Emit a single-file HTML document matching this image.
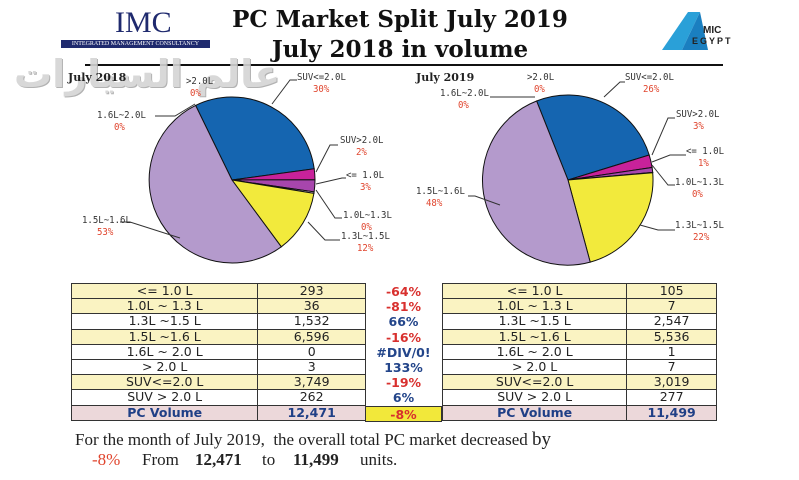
<!DOCTYPE html>
<html><head><meta charset="utf-8"><style>
body{margin:0;background:#fff;width:799px;height:480px;position:relative;overflow:hidden;font-family:"Liberation Serif",serif}
.a{position:absolute;white-space:nowrap}
.t{font-family:"DejaVu Serif","Liberation Serif",serif;font-weight:bold;font-size:23px;color:#111;text-align:center;width:800px;left:0}
.lb{font-family:"DejaVu Sans Mono","Liberation Mono",monospace;font-size:9.5px;color:#333;position:absolute;white-space:nowrap;transform:scaleX(.95);transform-origin:left}
.pc{color:#e0452e}
table{position:absolute;border-collapse:collapse;font-family:"DejaVu Sans","Liberation Sans",sans-serif;font-size:12.5px;color:#222}
td{border:1px solid #333;height:14.2px;padding:0;text-align:center;line-height:14px}
.y td{background:#faf3c2}.p td{background:#ecd8da;color:#1f3f86;font-weight:bold}
.m{position:absolute;left:365px;width:77px;text-align:center;font-family:"DejaVu Sans","Liberation Sans",sans-serif;font-weight:bold;font-size:12.5px;line-height:15.2px}
.r{color:#d8302e}.b{color:#23458a}
.bt{font-size:17px;color:#222}
</style></head><body>
<div class="a" style="left:115px;top:6px;font-size:30px;color:#1f2a6e;font-family:'Liberation Serif',serif">IMC</div>
<div class="a" style="left:61px;top:40px;width:149px;height:8px;background:#1f2a6e;color:#fff;font-size:6px;text-align:center;line-height:8px">INTEGRATED MANAGEMENT CONSULTANCY</div>
<div class="a t" style="top:6px">PC Market Split July 2019</div>
<div class="a t" style="top:36px">July 2018 in volume</div>
<div class="a" style="left:85px;top:64px;width:638px;height:2px;background:#111"></div>
<div class="a" style="left:660px;top:10px;width:70px;height:38px">
<svg width="90" height="45"><polygon points="2,40 28,2 40,2 22,40" fill="#2aa0d8"/><polygon points="22,40 40,2 48,40" fill="#1a7fc0"/></svg></div>
<div class="a" style="left:703px;top:25px;font:bold 10px 'Liberation Sans',sans-serif;color:#222">MIC</div>
<div class="a" style="left:692px;top:36px;font:bold 9px 'Liberation Sans',sans-serif;color:#222;letter-spacing:2px">EGYPT</div>
<svg id="sv" class="a" style="left:0;top:0" width="799" height="480"></svg>
<div class="a" style="left:14px;top:52px;font-size:38px;color:#d4d4d4;font-family:'DejaVu Sans',sans-serif;font-weight:bold;text-shadow:1px 1px 0 #aaa;opacity:.9">عالم السيارات</div>
<div class="a" style="left:68px;top:71px;font:bold 11px 'DejaVu Serif',serif;color:#222">July 2018</div>
<div class="a" style="left:416px;top:71px;font:bold 11px 'DejaVu Serif',serif;color:#222">July 2019</div>

<div class="lb" style="left:186px;top:76px">&gt;2.0L</div><div class="lb pc" style="left:190px;top:88px">0%</div>
<div class="lb" style="left:297px;top:72px">SUV&lt;=2.0L</div><div class="lb pc" style="left:313px;top:84px">30%</div>
<div class="lb" style="left:97px;top:110px">1.6L~2.0L</div><div class="lb pc" style="left:114px;top:122px">0%</div>
<div class="lb" style="left:340px;top:135px">SUV&gt;2.0L</div><div class="lb pc" style="left:356px;top:147px">2%</div>
<div class="lb" style="left:346px;top:170px">&lt;= 1.0L</div><div class="lb pc" style="left:360px;top:182px">3%</div>
<div class="lb" style="left:343px;top:210px">1.0L~1.3L</div><div class="lb pc" style="left:361px;top:222px">0%</div>
<div class="lb" style="left:341px;top:231px">1.3L~1.5L</div><div class="lb pc" style="left:357px;top:243px">12%</div>
<div class="lb" style="left:82px;top:215px">1.5L~1.6L</div><div class="lb pc" style="left:97px;top:227px">53%</div>

<div class="lb" style="left:527px;top:72px">&gt;2.0L</div><div class="lb pc" style="left:534px;top:84px">0%</div>
<div class="lb" style="left:625px;top:72px">SUV&lt;=2.0L</div><div class="lb pc" style="left:643px;top:84px">26%</div>
<div class="lb" style="left:440px;top:88px">1.6L~2.0L</div><div class="lb pc" style="left:458px;top:100px">0%</div>
<div class="lb" style="left:676px;top:109px">SUV&gt;2.0L</div><div class="lb pc" style="left:693px;top:121px">3%</div>
<div class="lb" style="left:686px;top:146px">&lt;= 1.0L</div><div class="lb pc" style="left:698px;top:158px">1%</div>
<div class="lb" style="left:675px;top:177px">1.0L~1.3L</div><div class="lb pc" style="left:692px;top:189px">0%</div>
<div class="lb" style="left:675px;top:220px">1.3L~1.5L</div><div class="lb pc" style="left:693px;top:232px">22%</div>
<div class="lb" style="left:416px;top:186px">1.5L~1.6L</div><div class="lb pc" style="left:426px;top:198px">48%</div>

<table style="left:71px;top:283px;width:295px">
<colgroup><col style="width:187px"><col style="width:108px"></colgroup>
<tr class="y"><td>&lt;= 1.0 L</td><td>293</td></tr>
<tr class="y"><td>1.0L ~ 1.3 L</td><td>36</td></tr>
<tr><td>1.3L ~1.5 L</td><td>1,532</td></tr>
<tr class="y"><td>1.5L ~1.6 L</td><td>6,596</td></tr>
<tr><td>1.6L ~ 2.0 L</td><td>0</td></tr>
<tr><td>&gt; 2.0 L</td><td>3</td></tr>
<tr class="y"><td>SUV&lt;=2.0 L</td><td>3,749</td></tr>
<tr><td>SUV &gt; 2.0 L</td><td>262</td></tr>
<tr class="p"><td>PC Volume</td><td>12,471</td></tr>
</table>
<table style="left:442px;top:283px;width:275px">
<colgroup><col style="width:185px"><col style="width:90px"></colgroup>
<tr class="y"><td>&lt;= 1.0 L</td><td>105</td></tr>
<tr class="y"><td>1.0L ~ 1.3 L</td><td>7</td></tr>
<tr><td>1.3L ~1.5 L</td><td>2,547</td></tr>
<tr class="y"><td>1.5L ~1.6 L</td><td>5,536</td></tr>
<tr><td>1.6L ~ 2.0 L</td><td>1</td></tr>
<tr><td>&gt; 2.0 L</td><td>7</td></tr>
<tr class="y"><td>SUV&lt;=2.0 L</td><td>3,019</td></tr>
<tr><td>SUV &gt; 2.0 L</td><td>277</td></tr>
<tr class="p"><td>PC Volume</td><td>11,499</td></tr>
</table>
<div class="m" style="top:284px">
<div class="r">-64%</div><div class="r">-81%</div><div class="b">66%</div><div class="r">-16%</div><div class="b">#DIV/0!</div><div class="b">133%</div><div class="r">-19%</div><div class="b">6%</div>
<div class="r" style="background:#f2e83a;border:1px solid #333;height:14px">-8%</div></div>

<div class="a bt" style="left:75px;top:429px">For the month of July 2019,&nbsp; the overall total PC market decreased <span style="font-size:19px">by</span></div>
<div class="a bt" style="left:92px;top:450px;color:#e0452e">-8%</div>
<div class="a bt" style="left:142px;top:450px">From</div>
<div class="a bt" style="left:195px;top:450px;font-weight:bold">12,471</div>
<div class="a bt" style="left:262px;top:450px">to</div>
<div class="a bt" style="left:293px;top:450px;font-weight:bold">11,499</div>
<div class="a bt" style="left:360px;top:450px">units.</div>
<script>
var sv=document.getElementById('sv'),h='';
function pie(cx,cy,r,st,vals,cols){var t=vals.reduce(function(a,b){return a+b},0),a=st;
vals.forEach(function(v,i){var s=v/t*360;if(s<=0)return;var e=a+s;
var p=function(g){var q=(g-90)*Math.PI/180;return(cx+r*Math.cos(q)).toFixed(1)+','+(cy+r*Math.sin(q)).toFixed(1)};
h+='<path d="M'+cx+','+cy+' L'+p(a)+' A'+r+','+r+' 0 '+(s>180?1:0)+',1 '+p(e)+' Z" fill="'+cols[i]+'" stroke="#111" stroke-width="1"/>';a=e;});}
var C=['#1565b0','#c8229a','#a746ad','#e8d0e8','#f2ea3c','#b49acc'];
pie(232,180,83,-26,[3749,262,293,36,1532,6596],C);
pie(568,180,85,-21.7,[3019,277,105,7,2547,5536],C);
function ln(pts){h+='<polyline points="'+pts+'" fill="none" stroke="#333" stroke-width="1"/>';}
ln('272,104 290,80 297,80');ln('316,172 330,145 338,145');ln('316,184 342,178 346,178');ln('316,190 335,218 342,218');ln('308,222 325,240 340,240');ln('195,104 175,116 155,116');ln('180,238 130,222 120,222');
ln('604,97 620,82 625,82');ln('652,155 668,118 675,118');ln('652,162 670,155 686,155');ln('652,165 668,185 675,185');ln('640,225 658,230 675,230');ln('535,97 520,97 490,97');ln('500,205 475,196 468,196');
sv.innerHTML=h;
</script>
</body></html>
